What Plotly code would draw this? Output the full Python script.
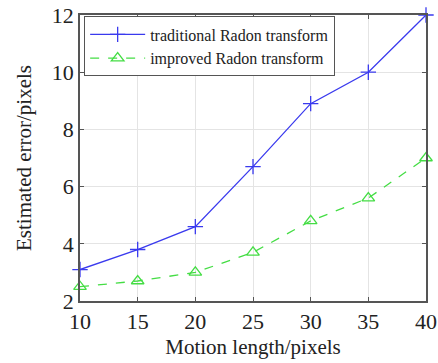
import plotly.graph_objects as go

motion_length = [10, 15, 20, 25, 30, 35, 40]
traditional = [3.1, 3.8, 4.6, 6.7, 8.9, 10.0, 12.0]
improved = [2.5, 2.7, 3.0, 3.7, 4.8, 5.6, 7.0]
x_ticks = [10, 15, 20, 25, 30, 35, 40]
y_ticks = [2, 4, 6, 8, 10, 12]

font_family = "Liberation Serif"

fig = go.Figure()
fig.add_trace(go.Scatter(
    x=motion_length, y=traditional, mode="lines+markers",
    name="traditional Radon transform",
    line=dict(color="#3a3aee", width=1.3),
    marker=dict(symbol="cross-thin", size=11, line=dict(color="#3a3aee", width=1.3)),
    cliponaxis=False,
))
fig.add_trace(go.Scatter(
    x=motion_length, y=improved, mode="lines+markers",
    name="improved Radon transform",
    line=dict(color="#44dd44", width=1.3, dash="dash"),
    marker=dict(symbol="triangle-up-open", size=11, line=dict(color="#44dd44", width=1.3)),
    cliponaxis=False,
))

axis_common = dict(
    showgrid=True, gridcolor="#e4e4e4", gridwidth=1,
    showline=True, linecolor="#555555", linewidth=1.5, mirror="ticks",
    ticks="inside", ticklen=4, tickcolor="#555555",
    zeroline=False, automargin=False,
    tickfont=dict(family=font_family, size=22, color="#222222"),
)

fig.update_xaxes(
    range=[10, 40], tickvals=x_ticks,
    title=dict(text="Motion length/pixels", font=dict(family=font_family, size=21, color="#222222"), standoff=6),
    **axis_common,
)
fig.update_yaxes(
    range=[2, 12], tickvals=y_ticks,
    title=dict(text="Estimated error/pixels", font=dict(family=font_family, size=21, color="#222222"), standoff=14),
    **axis_common,
)

fig.update_layout(
    width=438, height=363,
    margin=dict(l=80, r=12, t=15, b=62),
    plot_bgcolor="white", paper_bgcolor="white",
    showlegend=True,
    legend=dict(
        x=0.012, y=0.995, xanchor="left", yanchor="top",
        bgcolor="white", bordercolor="#555555", borderwidth=1,
        itemwidth=55, tracegroupgap=0,
        font=dict(family=font_family, size=16, color="#222222"),
    ),
)

fig.write_html("out.html", config={"displayModeBar": False},
               post_script="document.body.style.margin='0';")
